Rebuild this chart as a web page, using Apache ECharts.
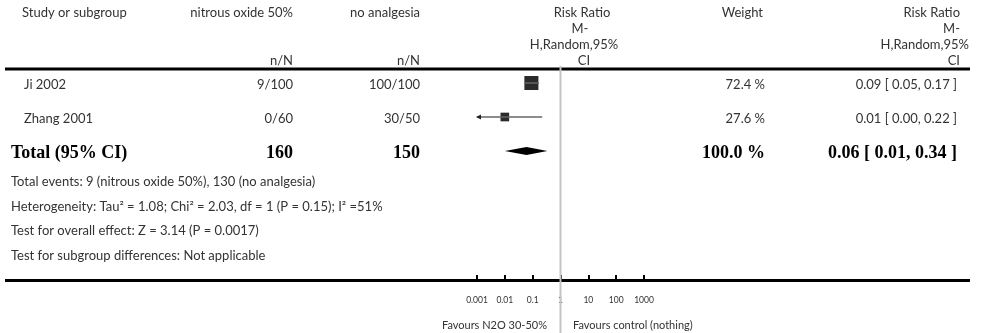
<!DOCTYPE html>
<html>
<head>
<meta charset="utf-8">
<script src="https://cdn.jsdelivr.net/npm/echarts@6/dist/echarts.min.js"></script>
<style>html,body{margin:0;padding:0;background:#fff}#main{width:988px;height:333px}</style>
</head>
<body>
<div id="main"></div>
<script>
// forest plot: nitrous oxide 50% vs no analgesia
var studies = ['Ji 2002', 'Zhang 2001'];
var expEvents = [9, 0];
var expTotal = [100, 60];
var ctlEvents = [100, 30];
var ctlTotal = [100, 50];
var weights = [72.4, 27.6];
var rr = [0.09, 0.01];
var rrLow = [0.05, 0.00];
var rrHigh = [0.17, 0.22];

var totalLabel = 'Total (95% CI)';
var totalExp = 160;
var totalCtl = 150;
var totalWeight = 100.0;
var totalRR = [0.06, 0.01, 0.34]; // estimate, low, high

var tickLabels = ['0.001', '0.01', '0.1', '1', '10', '100', '1000'];
var footLines = [
  'Total events: 9 (nitrous oxide 50%), 130 (no analgesia)',
  'Heterogeneity: Tau\u00b2 = 1.08; Chi\u00b2 = 2.03, df = 1 (P = 0.15); I\u00b2 =51%',
  'Test for overall effect: Z = 3.14 (P = 0.0017)',
  'Test for subgroup differences: Not applicable'
];

var FONT = '13px Lato';
var BOLD = 'bold 18px "Liberation Serif"';
var TXT = '#333';
var xMin = 0.001, xMax = 1000;

function fmtCI(e, l, h) {
  return e.toFixed(2) + ' [ ' + l.toFixed(2) + ', ' + h.toFixed(2) + ' ]';
}

function txt(x, y, s, align, font, color) {
  return {
    type: 'text', x: x, y: y,
    style: { text: s, font: font || FONT, fill: color || TXT,
      textAlign: align || 'left', align: align || 'left',
      textVerticalAlign: 'middle', verticalAlign: 'middle' }
  };
}

var chart = echarts.init(document.getElementById('main'));

// table rows: studies + total
var rowData = studies.map(function (s, i) { return [1, i]; });
rowData.push([1, studies.length]);

function renderRow(params, api) {
  var i = params.dataIndex;
  var y = api.coord([1, i])[1] + 2;
  if (i < studies.length) {
    return { type: 'group', children: [
      txt(24, y, studies[i]),
      txt(293, y, expEvents[i] + '/' + expTotal[i], 'right'),
      txt(420, y, ctlEvents[i] + '/' + ctlTotal[i], 'right'),
      txt(765, y, weights[i].toFixed(1) + ' %', 'right'),
      txt(957, y, fmtCI(rr[i], rrLow[i], rrHigh[i]), 'right')
    ]};
  }
  return { type: 'group', children: [
    txt(11, y, totalLabel, 'left', BOLD, '#000'),
    txt(293, y, String(totalExp), 'right', BOLD, '#000'),
    txt(420, y, String(totalCtl), 'right', BOLD, '#000'),
    txt(765, y, totalWeight.toFixed(1) + ' %', 'right', BOLD, '#000'),
    txt(957, y, fmtCI(totalRR[0], totalRR[1], totalRR[2]), 'right', BOLD, '#000')
  ]};
}

function renderCI(params, api) {
  var i = params.dataIndex;
  var row = api.value(1);
  var lo = Math.max(rrLow[i], xMin);
  var hi = Math.min(rrHigh[i], xMax);
  var pc = api.coord([rr[i], row]);
  var p0 = api.coord([lo, row]);
  var p1 = api.coord([hi, row]);
  var s = Math.sqrt(weights[i]) * 1.65;
  var kids = [
    { type: 'rect', shape: { x: pc[0] - s / 2, y: pc[1] - s / 2, width: s, height: s },
      style: { fill: '#2b2b2b' } },
    { type: 'line', shape: { x1: p0[0], y1: pc[1], x2: p1[0], y2: pc[1] },
      style: { stroke: '#666', lineWidth: 1.5 } }
  ];
  if (rrLow[i] < xMin) {
    kids.push({ type: 'polygon', shape: { points: [[p0[0] - 1, pc[1]], [p0[0] + 4, pc[1] - 2.5], [p0[0] + 4, pc[1] + 2.5]] },
      style: { fill: '#222' } });
  }
  return { type: 'group', children: kids };
}

function renderDiamond(params, api) {
  var row = api.value(1);
  var pc = api.coord([totalRR[0], row]);
  var pl = api.coord([totalRR[1], row]);
  var ph = api.coord([totalRR[2], row]);
  return { type: 'polygon',
    shape: { points: [[pl[0], pc[1]], [pc[0], pc[1] - 4], [ph[0], pc[1]], [pc[0], pc[1] + 4]] },
    style: { fill: '#000' } };
}

// line of no effect, from the top of the plot down to the bottom of the page
function renderNoEffect(params, api) {
  var x = api.coord([api.value(0), 0])[0];
  return { type: 'line',
    shape: { x1: x, y1: params.coordSys.y, x2: x, y2: api.getHeight() },
    style: { stroke: '#c4c4c4', lineWidth: 2 } };
}

var graphics = [
  txt(22, 13, 'Study or subgroup'),
  txt(293, 13, 'nitrous oxide 50%', 'right'),
  txt(420, 13, 'no analgesia', 'right'),
  txt(293, 61, 'n/N', 'right'),
  txt(420, 61, 'n/N', 'right'),
  txt(582, 13, 'Risk Ratio', 'center'),
  txt(580, 29, 'M-', 'center'),
  txt(574, 45, 'H,Random,95%', 'center'),
  txt(584, 61, 'CI', 'center'),
  txt(763, 13, 'Weight', 'right'),
  txt(960, 13, 'Risk Ratio', 'right'),
  txt(960, 29, 'M-', 'right'),
  txt(969, 45, 'H,Random,95%', 'right'),
  txt(960, 61, 'CI', 'right'),
  { type: 'line', shape: { x1: 5, y1: 69, x2: 970, y2: 69 }, style: { stroke: '#000', lineWidth: 3 } },
  { type: 'line', shape: { x1: 5, y1: 280.5, x2: 970, y2: 280.5 }, style: { stroke: '#000', lineWidth: 3 } },
  txt(547, 325, 'Favours N2O 30-50%', 'right', '11px Lato'),
  txt(573, 325, 'Favours control (nothing)', 'left', '11px Lato')
];
footLines.forEach(function (s, k) {
  graphics.push(txt(11, 182 + k * 24.5, s));
});

var option = {
  animation: false,
  backgroundColor: '#fff',
  graphic: graphics,
  grid: { left: 477, width: 167, top: 66, bottom: 53 },
  xAxis: {
    type: 'log', logBase: 10, min: xMin, max: xMax, splitNumber: 6,
    axisLine: { show: false, onZero: false },
    axisTick: { show: true, inside: true, length: 5, lineStyle: { color: '#000', width: 2 } },
    minorTick: { show: false },
    splitLine: { show: false },
    axisLabel: {
      margin: 16, fontSize: 8.5, fontFamily: 'Lato', color: TXT,
      formatter: function (v) { return tickLabels[Math.round(Math.log10(v)) + 3]; }
    }
  },
  yAxis: { type: 'value', inverse: true, min: -0.5, max: -0.5 + 214 / 34, show: false },
  series: [
    {
      type: 'custom', name: 'no effect', renderItem: renderNoEffect, clip: false, z: 1,
      encode: { x: 0, y: 1 },
      data: [[1, 0]]
    },
    {
      type: 'custom', name: 'studies', renderItem: renderCI, clip: false, z: 3,
      encode: { x: 0, y: 1 },
      data: studies.map(function (s, i) { return [rr[i], i]; })
    },
    {
      type: 'custom', name: 'total', renderItem: renderDiamond, clip: false, z: 3,
      encode: { x: 0, y: 1 },
      data: [[totalRR[0], studies.length]]
    },
    {
      type: 'custom', name: 'table', renderItem: renderRow, clip: false, z: 3,
      encode: { x: 0, y: 1 },
      data: rowData
    }
  ]
};
chart.setOption(option);
</script>
</body>
</html>
